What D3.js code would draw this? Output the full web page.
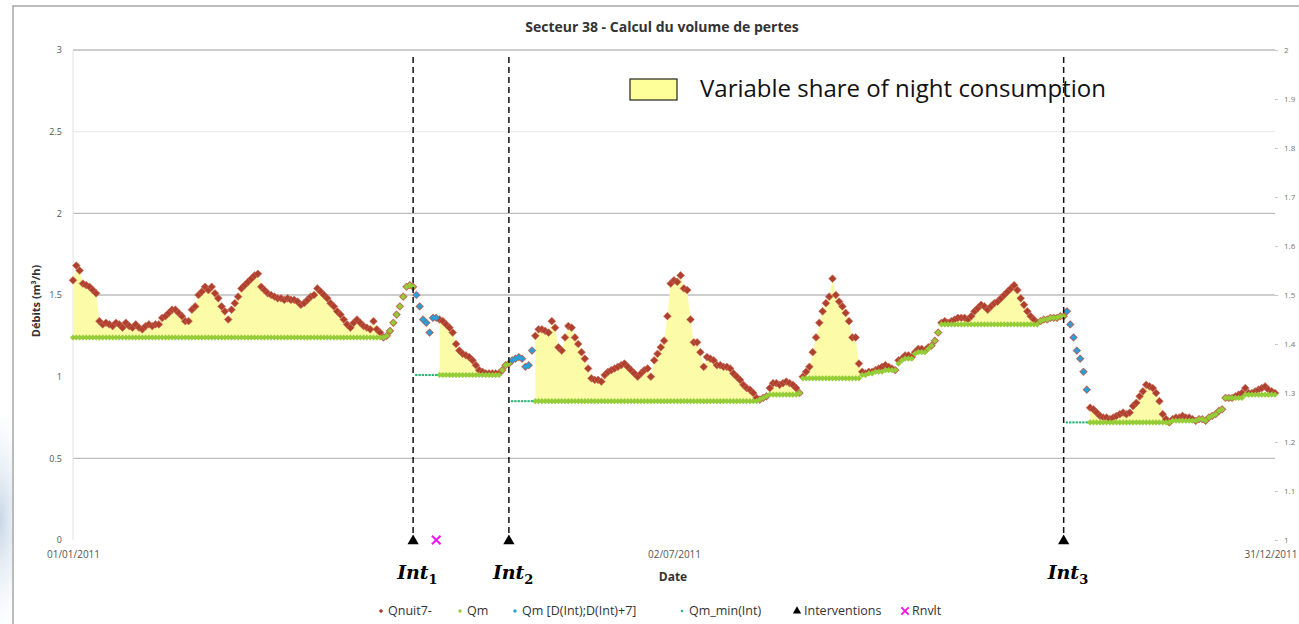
<!DOCTYPE html>
<html>
<head>
<meta charset="utf-8">
<title>Secteur 38 - Calcul du volume de pertes</title>
<script src="https://d3js.org/d3.v7.min.js"></script>
<style>
  body { margin: 0; background: #fff; }
  svg text { font-family: "Open Sans", "DejaVu Sans", sans-serif; }
</style>
</head>
<body>
<svg id="chart" width="1299" height="624"></svg>
<script>
// ---- data (one value per day, from 01/01/2011) ----
const startDate = new Date(2011, 0, 1);

// Qnuit7- (night flow, m3/h)
const qnuit = [
  1.59,1.68,1.65,1.57,1.56,1.55,1.53,1.51,1.34,1.32, // 0
  1.33,1.32,1.31,1.33,1.32,1.30,1.33,1.31,1.30,1.32,
  1.30,1.29,1.31,1.32,1.31,1.32,1.32,1.36,1.37,1.39,
  1.41,1.41,1.39,1.37,1.34,1.34,1.41,1.43,1.50,1.52,
  1.55,1.53,1.55,1.51,1.48,1.43,1.40,1.35,1.41,1.45,
  1.49,1.54,1.56,1.58,1.60,1.62,1.63,1.55,1.53,1.51, // 50
  1.50,1.49,1.48,1.48,1.47,1.48,1.47,1.47,1.46,1.44,
  1.45,1.47,1.49,1.50,1.54,1.52,1.50,1.48,1.45,1.43,
  1.40,1.38,1.35,1.32,1.30,1.33,1.35,1.33,1.31,1.30,
  1.29,1.34,1.29,1.27,1.24,1.25,1.28,1.33,1.38,1.43,
  1.49,1.55,1.56,1.55,1.50,1.43,1.35,1.33,1.27,1.36, // 100
  1.36,1.35,1.34,1.32,1.30,1.27,1.20,1.16,1.14,1.13,
  1.12,1.10,1.07,1.04,1.03,1.02,1.02,1.02,1.02,1.02,
  1.04,1.07,1.08,1.10,1.11,1.12,1.11,1.06,1.07,1.16,
  1.25,1.29,1.29,1.28,1.27,1.34,1.30,1.18,1.16,1.24,
  1.31,1.30,1.24,1.20,1.15,1.11,1.05,0.99,0.98,0.98, // 150
  0.97,1.01,1.03,1.04,1.05,1.06,1.07,1.08,1.06,1.04,
  1.02,1.00,1.02,1.04,1.05,1.00,1.10,1.14,1.18,1.22,
  1.37,1.57,1.59,1.58,1.62,1.54,1.53,1.35,1.21,1.21,
  1.15,1.06,1.12,1.11,1.10,1.07,1.07,1.06,1.06,1.05,
  1.02,1.00,0.98,0.95,0.93,0.92,0.90,0.87,0.86,0.87, // 200
  0.88,0.93,0.96,0.96,0.95,0.96,0.97,0.96,0.95,0.93,
  0.90,1.00,1.03,1.06,1.15,1.24,1.33,1.40,1.45,1.49,
  1.60,1.50,1.46,1.43,1.39,1.34,1.24,1.24,1.08,1.03,
  1.02,1.03,1.03,1.04,1.05,1.06,1.07,1.06,1.05,1.04,
  1.10,1.11,1.13,1.13,1.12,1.15,1.17,1.17,1.16,1.18, // 250
  1.19,1.22,1.27,1.33,1.34,1.33,1.34,1.35,1.36,1.36,
  1.36,1.35,1.37,1.40,1.42,1.44,1.43,1.41,1.43,1.45,
  1.46,1.48,1.50,1.52,1.54,1.56,1.53,1.48,1.44,1.40,
  1.37,1.35,1.33,1.34,1.35,1.35,1.36,1.36,1.36,1.37,
  1.37,1.40,1.32,1.24,1.16,1.11,1.03,0.92,0.81,0.80, // 300
  0.78,0.76,0.75,0.75,0.74,0.75,0.76,0.77,0.78,0.77,
  0.78,0.82,0.84,0.88,0.91,0.95,0.94,0.93,0.90,0.85,
  0.77,0.74,0.72,0.74,0.75,0.75,0.76,0.75,0.75,0.74,
  0.73,0.74,0.74,0.73,0.75,0.76,0.77,0.79,0.80,0.87,
  0.87,0.87,0.88,0.89,0.90,0.93,0.90,0.90,0.91,0.92, // 350
  0.93,0.94,0.92,0.91,0.90
];

// Qm (null during the 7 days that follow an intervention)
const qm = [
  1.24,1.24,1.24,1.24,1.24,1.24,1.24,1.24,1.24,1.24, // 0
  1.24,1.24,1.24,1.24,1.24,1.24,1.24,1.24,1.24,1.24,
  1.24,1.24,1.24,1.24,1.24,1.24,1.24,1.24,1.24,1.24,
  1.24,1.24,1.24,1.24,1.24,1.24,1.24,1.24,1.24,1.24,
  1.24,1.24,1.24,1.24,1.24,1.24,1.24,1.24,1.24,1.24,
  1.24,1.24,1.24,1.24,1.24,1.24,1.24,1.24,1.24,1.24, // 50
  1.24,1.24,1.24,1.24,1.24,1.24,1.24,1.24,1.24,1.24,
  1.24,1.24,1.24,1.24,1.24,1.24,1.24,1.24,1.24,1.24,
  1.24,1.24,1.24,1.24,1.24,1.24,1.24,1.24,1.24,1.24,
  1.24,1.24,1.24,1.24,1.24,1.25,1.28,1.33,1.38,1.43,
  1.49,1.55,1.56,1.55,null,null,null,null,null,null, // 100
  null,1.01,1.01,1.01,1.01,1.01,1.01,1.01,1.01,1.01,
  1.01,1.01,1.01,1.01,1.01,1.01,1.01,1.01,1.01,1.01,
  1.04,1.07,1.08,null,null,null,null,null,null,null,
  0.85,0.85,0.85,0.85,0.85,0.85,0.85,0.85,0.85,0.85,
  0.85,0.85,0.85,0.85,0.85,0.85,0.85,0.85,0.85,0.85, // 150
  0.85,0.85,0.85,0.85,0.85,0.85,0.85,0.85,0.85,0.85,
  0.85,0.85,0.85,0.85,0.85,0.85,0.85,0.85,0.85,0.85,
  0.85,0.85,0.85,0.85,0.85,0.85,0.85,0.85,0.85,0.85,
  0.85,0.85,0.85,0.85,0.85,0.85,0.85,0.85,0.85,0.85,
  0.85,0.85,0.85,0.85,0.85,0.85,0.85,0.85,0.86,0.87, // 200
  0.88,0.89,0.89,0.89,0.89,0.89,0.89,0.89,0.89,0.89,
  0.90,0.99,0.99,0.99,0.99,0.99,0.99,0.99,0.99,0.99,
  0.99,0.99,0.99,0.99,0.99,0.99,0.99,0.99,0.99,1.01,
  1.01,1.02,1.02,1.03,1.03,1.03,1.04,1.04,1.04,1.04,
  1.08,1.10,1.11,1.11,1.11,1.14,1.15,1.15,1.15,1.17, // 250
  1.19,1.22,1.27,1.32,1.32,1.32,1.32,1.32,1.32,1.32,
  1.32,1.32,1.32,1.32,1.32,1.32,1.32,1.32,1.32,1.32,
  1.32,1.32,1.32,1.32,1.32,1.32,1.32,1.32,1.32,1.32,
  1.32,1.32,1.32,1.34,1.35,1.35,1.36,1.36,1.36,1.37,
  1.37,null,null,null,null,null,null,null,0.72,0.72, // 300
  0.72,0.72,0.72,0.72,0.72,0.72,0.72,0.72,0.72,0.72,
  0.72,0.72,0.72,0.72,0.72,0.72,0.72,0.72,0.72,0.72,
  0.72,0.72,0.72,0.73,0.73,0.73,0.73,0.73,0.73,0.73,
  0.73,0.74,0.74,0.73,0.75,0.76,0.77,0.79,0.80,0.87,
  0.87,0.87,0.87,0.87,0.87,0.89,0.89,0.89,0.89,0.89, // 350
  0.89,0.89,0.89,0.89,0.89
];

// interventions (day index) and the 7 following days
const interventionDays = [103, 132, 300];
const interventionNames = ["1", "2", "3"];
const qmIntRanges = [[104, 110], [133, 139], [301, 307]];
const qmMinValues = [1.01, 0.85, 0.72];
const rnvltDays = [110];

// day ranges where the variable share of night consumption is shaded
const fillRanges = [[0, 95], [111, 129], [140, 207], [211, 220], [221, 239], [263, 293], [308, 332]];

const leftTicks = [0, 0.5, 1, 1.5, 2, 2.5, 3];
const rightTicks = [1, 1.1, 1.2, 1.3, 1.4, 1.5, 1.6, 1.7, 1.8, 1.9, 2];
const xTickDates = [new Date(2011, 0, 1), new Date(2011, 6, 2), new Date(2011, 11, 31)];
const gridValues = [3, 2.5, 2, 1.5, 0.5];

// ---- chart ----
const svg = d3.select("#chart");
const dayDate = i => d3.timeDay.offset(startDate, i);

const x = d3.scaleTime().domain([new Date(2011, 0, 1), new Date(2011, 11, 31)]).range([73, 1275]);
const y = d3.scaleLinear().domain([0, 3]).range([540, 50]);
const yR = d3.scaleLinear().domain([1, 2]).range([540, 50]);

// faint background blob at the left edge
const defs = svg.append("defs");
const rg = defs.append("radialGradient").attr("id", "blob");
rg.append("stop").attr("offset", "0%").attr("stop-color", "#b9cde0").attr("stop-opacity", 0.8);
rg.append("stop").attr("offset", "100%").attr("stop-color", "#dfe9f2").attr("stop-opacity", 0);
svg.append("ellipse").attr("cx", 0).attr("cy", 520).attr("rx", 30).attr("ry", 110).attr("fill", "url(#blob)");

// chart frame
svg.append("rect").attr("x", 13).attr("y", 6).attr("width", 1320).attr("height", 640)
  .attr("fill", "#fff").attr("stroke", "#a6a6a6").attr("stroke-width", 1.5);

// title
svg.append("text").attr("x", 662).attr("y", 32).attr("text-anchor", "middle")
  .style("font-size", "14px").style("font-weight", "bold").attr("fill", "#333")
  .text("Secteur 38 - Calcul du volume de pertes");

// gridlines
svg.append("g").selectAll("line").data(gridValues).join("line")
  .attr("x1", 73).attr("x2", 1275)
  .attr("y1", d => y(d)).attr("y2", d => y(d))
  .attr("stroke", d => (d === 2.5 ? "#ececec" : "#bdbdbd"))
  .attr("stroke-width", 1.3);

svg.append("line").attr("x1", 73).attr("x2", 73).attr("y1", 50).attr("y2", 540)
  .attr("stroke", "#e2e2e2");

// axes
const axL = svg.append("g").attr("transform", "translate(73,0)")
  .call(d3.axisLeft(y).tickValues(leftTicks).tickFormat(d3.format("")).tickSize(0).tickPadding(11));
axL.select(".domain").remove();
axL.selectAll("text").style("font-size", "9px").attr("fill", "#555");

const axR = svg.append("g").attr("transform", "translate(1275,0)")
  .call(d3.axisRight(yR).tickValues(rightTicks).tickFormat(d3.format(".1~f")).tickSize(3).tickPadding(6));
axR.select(".domain").remove();
axR.selectAll("line").attr("stroke", "#c8c8c8");
axR.selectAll("text").style("font-size", "8px").attr("fill", "#777");

const axB = svg.append("g").attr("transform", "translate(0,540)")
  .call(d3.axisBottom(x).tickValues(xTickDates).tickFormat(d3.timeFormat("%d/%m/%Y")).tickSize(0).tickPadding(11));
axB.select(".domain").remove();
axB.selectAll("text").style("font-size", "10px").attr("fill", "#555");
// last date label sits against the right edge of the picture
axB.selectAll(".tick").filter((d, i) => i === xTickDates.length - 1).select("text")
  .attr("text-anchor", "end").attr("x", 22);

// axis titles
svg.append("text").attr("x", 673).attr("y", 581).attr("text-anchor", "middle")
  .style("font-size", "12px").style("font-weight", "bold").attr("fill", "#333").text("Date");
svg.append("text").attr("transform", "translate(40,301) rotate(-90)").attr("text-anchor", "middle")
  .style("font-size", "11px").style("font-weight", "bold").attr("fill", "#333").text("Débits (m³/h)");

// rows
const rows = qnuit.map((v, i) => ({ i, date: dayDate(i), qn: v, qm: qm[i] }));

// variable share fill
const area = d3.area()
  .x(d => x(d.date))
  .y0(d => y(d.qm))
  .y1(d => y(Math.max(d.qn, d.qm)));
svg.append("g").selectAll("path").data(fillRanges).join("path")
  .attr("d", r => area(rows.slice(r[0], r[1] + 1)))
  .attr("fill", "#fcfca8").attr("stroke", "none");

const diamond = s => d3.symbol(d3.symbolSquare, s)();

// Qnuit7-
svg.append("g").selectAll("path").data(rows).join("path")
  .attr("d", diamond(30))
  .attr("transform", d => `translate(${x(d.date)},${y(d.qn)}) rotate(45)`)
  .attr("fill", "#b0402e").attr("stroke", "#c9705e").attr("stroke-width", 0.6);

// Qm
svg.append("g").selectAll("path").data(rows.filter(d => d.qm != null)).join("path")
  .attr("d", diamond(19))
  .attr("transform", d => `translate(${x(d.date)},${y(d.qm)}) rotate(45)`)
  .attr("fill", "#95cd38");

// Qm [D(Int);D(Int)+7]
const blueRows = qmIntRanges.flatMap(r => rows.slice(r[0], r[1] + 1));
svg.append("g").selectAll("path").data(blueRows).join("path")
  .attr("d", diamond(20))
  .attr("transform", d => `translate(${x(d.date)},${y(d.qn)}) rotate(45)`)
  .attr("fill", "#2a9fd8");

// Qm_min(Int)
const minRows = qmIntRanges.flatMap((r, k) => d3.range(r[0], r[1] + 1).map(i => ({ date: dayDate(i), v: qmMinValues[k] })));
svg.append("g").selectAll("rect").data(minRows).join("rect")
  .attr("x", d => x(d.date) - 1.3).attr("y", d => y(d.v) - 1)
  .attr("width", 2.4).attr("height", 2)
  .attr("fill", "#2bb37a");

// dashed intervention lines
svg.append("g").selectAll("line").data(interventionDays).join("line")
  .attr("x1", d => x(dayDate(d))).attr("x2", d => x(dayDate(d)))
  .attr("y1", 57).attr("y2", 534)
  .attr("stroke", "#111").attr("stroke-width", 1.5).attr("stroke-dasharray", "6,4");

// intervention triangles
svg.append("g").selectAll("path").data(interventionDays).join("path")
  .attr("d", d3.symbol(d3.symbolTriangle, 55)())
  .attr("transform", d => `translate(${x(dayDate(d))},${y(0) + 1})`)
  .attr("fill", "#000");

// Rnvlt
const cross = d3.symbol(d3.symbolX, 50)();
svg.append("g").selectAll("path").data(rnvltDays).join("path")
  .attr("d", cross)
  .attr("transform", d => `translate(${x(dayDate(d))},${y(0)})`)
  .attr("fill", "none").attr("stroke", "#f015e8").attr("stroke-width", 2);

// Int labels
const intLab = svg.append("g").selectAll("text").data(interventionDays).join("text")
  .attr("x", d => x(dayDate(d)) - 16).attr("y", 579)
  .style("font-family", "'DejaVu Serif', serif").style("font-weight", "bold")
  .style("font-style", "italic").style("font-size", "19px").attr("fill", "#000");
intLab.append("tspan").text("Int");
intLab.append("tspan").attr("dy", 5).style("font-size", "13px").style("font-style", "normal")
  .text((d, i) => interventionNames[i]);

// top legend (variable share)
svg.append("rect").attr("x", 630).attr("y", 79).attr("width", 47).attr("height", 21)
  .attr("fill", "#ffff99").attr("stroke", "#222").attr("stroke-width", 1.2);
svg.append("text").attr("x", 700).attr("y", 97)
  .style("font-size", "24px").attr("fill", "#111")
  .text("Variable share of night consumption");

// bottom legend
const legendItems = [
  { x: 381, label: "Qnuit7-", kind: "diamond", color: "#b0402e" },
  { x: 460, label: "Qm", kind: "dot", color: "#95cd38" },
  { x: 515, label: "Qm [D(Int);D(Int)+7]", kind: "dot", color: "#2a9fd8" },
  { x: 682, label: "Qm_min(Int)", kind: "small", color: "#2bb37a" },
  { x: 797, label: "Interventions", kind: "tri", color: "#000" },
  { x: 905, label: "Rnvlt", kind: "x", color: "#f015e8" }
];
const lg = svg.append("g").selectAll("g").data(legendItems).join("g")
  .attr("transform", d => `translate(${d.x},611)`);
lg.append("path")
  .attr("d", d => d.kind === "tri" ? d3.symbol(d3.symbolTriangle, 30)()
    : d.kind === "x" ? d3.symbol(d3.symbolX, 36)()
    : d.kind === "diamond" ? diamond(10)
    : d3.symbol(d3.symbolCircle, d.kind === "small" ? 5 : 9)())
  .attr("transform", d => d.kind === "diamond" ? "rotate(45)" : null)
  .attr("fill", d => d.kind === "x" ? "none" : d.color)
  .attr("stroke", d => d.kind === "x" ? d.color : "none")
  .attr("stroke-width", 2);
lg.append("text").attr("x", 7).attr("y", 4)
  .style("font-size", "12.5px").attr("fill", "#333")
  .text(d => d.label);
</script>
</body>
</html>
